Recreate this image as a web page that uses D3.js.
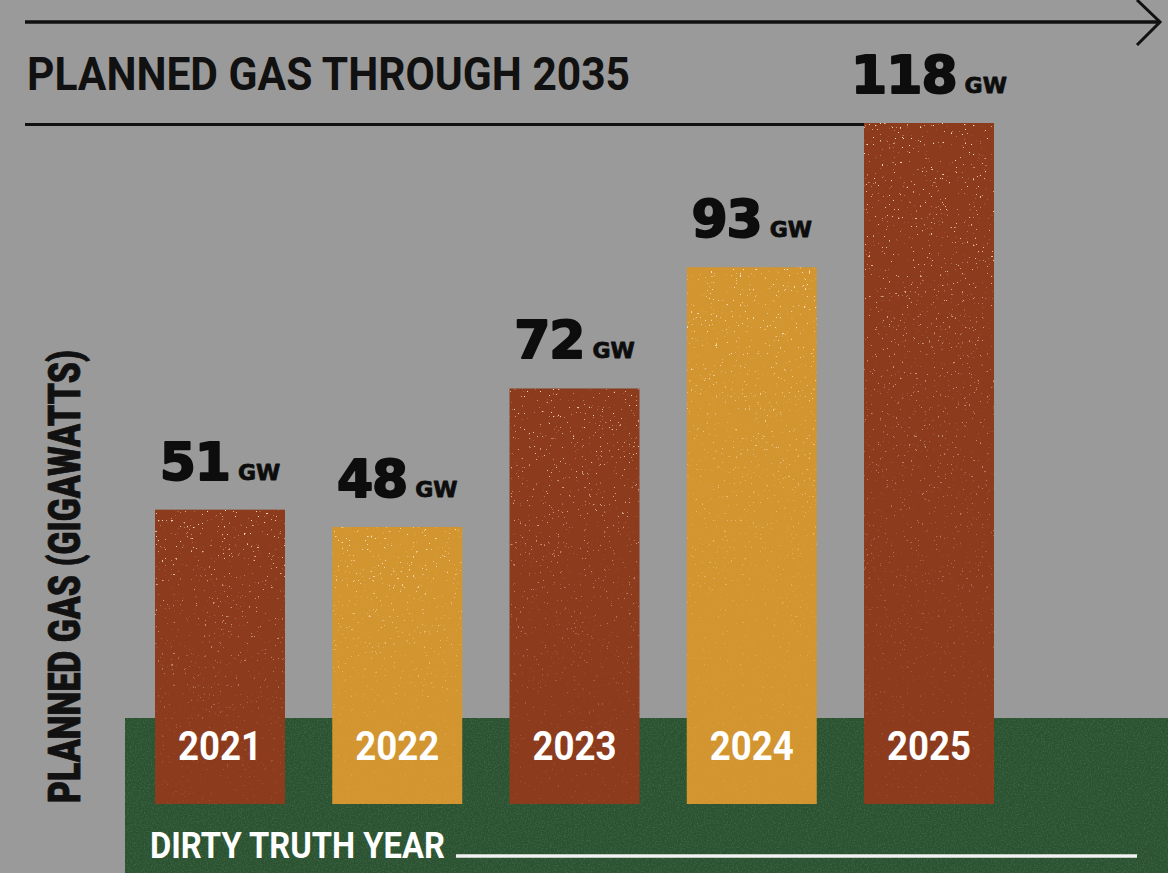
<!DOCTYPE html>
<html><head><meta charset="utf-8">
<script src="https://cdn.jsdelivr.net/npm/d3@7"></script>
<style>html,body{margin:0;padding:0;background:#9a9a9a;overflow:hidden}svg{display:block}</style>
</head><body>
<script>
const years = ["2021","2022","2023","2024","2025"];
const values = [51,48,72,93,118];
const barColors = ["#8d3b1d","#d3952f","#8d3b1d","#d3952f","#8d3b1d"];
const unit = "GW";
const title = "PLANNED GAS THROUGH 2035";
const yTitle = "PLANNED GAS (GIGAWATTS)";
const xTitle = "DIRTY TRUTH YEAR";

const W=1168,H=873;
const svg=d3.select("body").append("svg").attr("width",W).attr("height",H);
const defs=svg.append("defs");
const f=defs.append("filter").attr("id","speck").attr("x",0).attr("y",0).attr("width",1).attr("height",1);
f.append("feTurbulence").attr("type","fractalNoise").attr("baseFrequency",0.45).attr("numOctaves",2).attr("seed",7).attr("result","n");
f.append("feColorMatrix").attr("in","n").attr("type","matrix")
 .attr("values","0 0 0 0 0.95  0 0 0 0 0.8  0 0 0 0 0.58  14 0 0 0 -9.9").attr("result","s");
f.append("feComposite").attr("in","s").attr("in2","SourceAlpha").attr("operator","in");
const g2=defs.append("filter").attr("id","grain").attr("x",0).attr("y",0).attr("width",1).attr("height",1);
g2.append("feTurbulence").attr("type","fractalNoise").attr("baseFrequency",0.7).attr("numOctaves",2).attr("seed",3).attr("result","n");
g2.append("feColorMatrix").attr("in","n").attr("type","matrix")
 .attr("values","0 0 0 0 0.45  0 0 0 0 0.65  0 0 0 0 0.45  1.2 0 0 0 -0.5").attr("result","s");
g2.append("feComposite").attr("in","s").attr("in2","SourceAlpha").attr("operator","in");
const fade=defs.append("linearGradient").attr("id","fade").attr("x1",0).attr("y1",0).attr("x2",0).attr("y2",1);
fade.append("stop").attr("offset","0").attr("stop-color","#fff");
fade.append("stop").attr("offset","0.3").attr("stop-color","#999");
fade.append("stop").attr("offset","0.75").attr("stop-color","#333");
fade.append("stop").attr("offset","1").attr("stop-color","#222");
const mask=defs.append("mask").attr("id","fm").attr("maskContentUnits","objectBoundingBox");
mask.append("rect").attr("width",1).attr("height",1).attr("fill","url(#fade)");

svg.append("rect").attr("width",W).attr("height",H).attr("fill","#9a9a9a");

const x=d3.scaleBand().domain(years).range([155,994]).paddingInner(0.2666).paddingOuter(0);
const y=d3.scaleLinear().domain([0,118]).range([804,123]);

// green ground
svg.append("rect").attr("x",125).attr("y",718).attr("width",W-125).attr("height",H-718).attr("fill","#2a5230");
svg.append("rect").attr("x",125).attr("y",718).attr("width",W-125).attr("height",H-718).attr("fill","#fff").attr("filter","url(#grain)").attr("opacity",0.3);

// top rule with arrow
svg.append("line").attr("x1",25).attr("x2",1158).attr("y1",22).attr("y2",22).attr("stroke","#111").attr("stroke-width",3.5);
svg.append("path").attr("d","M1137,0 L1160,22 L1137,45").attr("fill","none").attr("stroke","#111").attr("stroke-width",3);
svg.append("text").attr("x",27).attr("y",90).attr("font-family","Roboto, sans-serif").attr("font-weight",700)
 .attr("font-size",47).attr("fill","#111").attr("textLength",603).attr("lengthAdjust","spacingAndGlyphs").text(title);
svg.append("line").attr("x1",25).attr("x2",x("2025")).attr("y1",124.5).attr("y2",124.5).attr("stroke","#111").attr("stroke-width",3);

// bars
svg.append("g").selectAll("rect").data(years).join("rect")
 .attr("x",d=>x(d)).attr("width",x.bandwidth()).attr("y",(d,i)=>y(values[i])).attr("height",(d,i)=>y(0)-y(values[i]))
 .attr("fill",(d,i)=>barColors[i]);
svg.append("g").selectAll("rect").data(years).join("rect")
 .attr("x",d=>x(d)).attr("width",x.bandwidth()).attr("y",(d,i)=>y(values[i])).attr("height",(d,i)=>y(0)-y(values[i]))
 .attr("fill","#fff").attr("filter","url(#speck)").attr("mask","url(#fm)");

// value labels
const lab=svg.append("g").selectAll("text").data(years).join("text")
 .attr("x",d=>x(d)+x.bandwidth()/2).attr("y",(d,i)=>y(values[i])-30).attr("text-anchor","middle")
 .attr("font-family","'DejaVu Sans', sans-serif").attr("font-weight",700).attr("fill","#0d0d0d")
 .attr("stroke","#0d0d0d").attr("stroke-linejoin","round");
lab.append("tspan").attr("font-size",52).attr("letter-spacing",-1).attr("stroke-width",2).text((d,i)=>values[i]);
lab.append("tspan").attr("font-size",22).attr("dx",8).attr("stroke-width",0.8).text(unit);

// year labels
svg.append("g").selectAll("text").data(years).join("text")
 .attr("x",d=>x(d)+x.bandwidth()/2).attr("y",760).attr("text-anchor","middle")
 .attr("font-family","Roboto, sans-serif").attr("font-weight",700).attr("font-size",41).attr("fill","#fff")
 .attr("textLength",84).attr("lengthAdjust","spacingAndGlyphs").text(d=>d);

// x title
svg.append("text").attr("x",150).attr("y",858).attr("font-family","Roboto, sans-serif").attr("font-weight",700)
 .attr("font-size",36).attr("fill","#fff").attr("textLength",295).attr("lengthAdjust","spacingAndGlyphs").text(xTitle);
svg.append("line").attr("x1",456).attr("x2",1137).attr("y1",856).attr("y2",856).attr("stroke","#f2f2f2").attr("stroke-width",3.5);

// y title
svg.append("text").attr("transform","translate(80,576.5) rotate(-90)").attr("text-anchor","middle")
 .attr("font-family","Roboto, sans-serif").attr("font-weight",900).attr("font-size",44).attr("fill","#111")
 .attr("stroke","#111").attr("stroke-width",0.8)
 .attr("textLength",453).attr("lengthAdjust","spacingAndGlyphs").text(yTitle);
</script>
</body></html>
